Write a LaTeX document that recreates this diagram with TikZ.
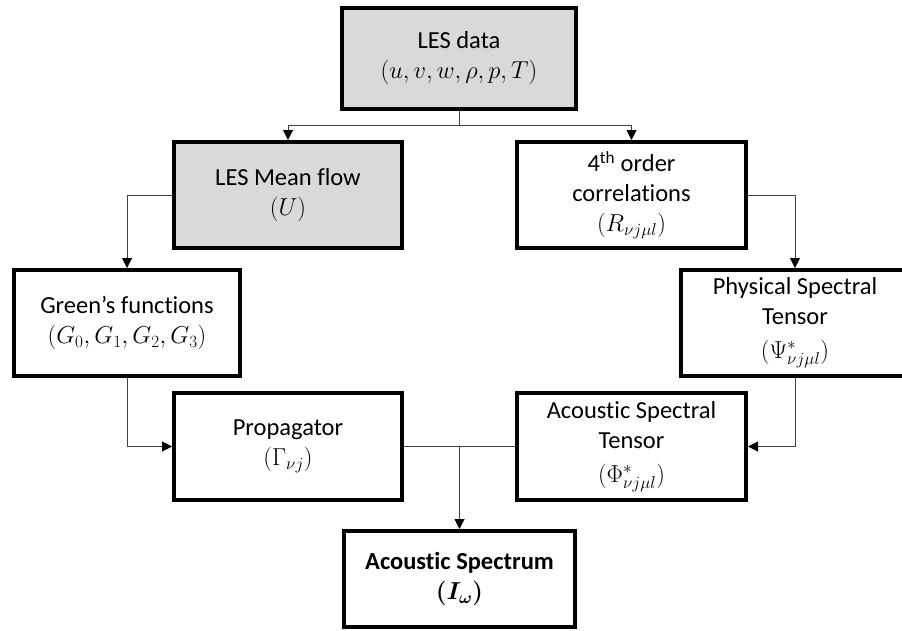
\RequirePackage{fix-cm}
\documentclass[tikz,border=0pt]{standalone}
\usepackage{fontspec}
\setmainfont{Carlito}[Ligatures={NoCommon,NoContextual,NoRare}]
\usetikzlibrary{arrows.meta}

\definecolor{boxgrey}{HTML}{D9D9D9}
\definecolor{wire}{HTML}{404040}

% "Acoustic" without the t-i ligature
\newcommand{\acoustic}{Acoust\kern0pt ic}

\tikzset{
  stagebox/.style={draw=black, line width=4pt, align=center, inner sep=0pt,
    font=\fontsize{24.5}{30}\selectfont},
  greybox/.style={stagebox, fill=boxgrey},
  wireline/.style={draw=wire, line width=1pt},
  flow/.style={wireline, -{Triangle[length=10pt, width=10pt, color=black]}},
}

\begin{document}
\begin{tikzpicture}[x=1pt, y=-1pt]
  \useasboundingbox (0,0) rectangle (902,630);

  % input data and the two branches it feeds
  \node[greybox, minimum width=234pt, minimum height=101pt] (les) at (459,58.5)
    {LES data\\$(u,v,w,\rho,p,T)$};
  \node[greybox, minimum width=228pt, minimum height=106pt] (mean) at (288,195)
    {LES Mean flow\\$(U)$};
  \node[stagebox, minimum width=229pt, minimum height=106pt] (corr) at (631.5,195)
    {4\textsuperscript{th} order\\correlations\\$(R_{\nu j\mu l})$};

  % second level
  \node[stagebox, minimum width=226pt, minimum height=106pt] (green) at (127,323)
    {Green’s functions\\$(G_0,G_1,G_2,G_3)$};
  \node[stagebox, minimum width=228pt, minimum height=106pt] (phys) at (795,323)
    {Physical Spectral\\Tensor\\[4pt]$(\Psi^{*}_{\nu j\mu l})$};

  % third level
  \node[stagebox, minimum width=228pt, minimum height=107pt] (prop) at (288,446.5)
    {Propagator\\$(\Gamma_{\nu j})$};
  \node[stagebox, minimum width=229pt, minimum height=107pt] (ast) at (631.5,446.5)
    {\acoustic{} Spectral\\Tensor\\[4pt]$(\Phi^{*}_{\nu j\mu l})$};

  % result
  \node[stagebox, minimum width=231pt, minimum height=96pt] (spec) at (459.5,579)
    {\bfseries \acoustic{} Spectrum\\{\boldmath$(I_{\omega})$}};

  % connectors
  \coordinate (split) at ([yshift=-14pt]les.south);
  \draw[wireline] (les.south) -- (split);
  \draw[flow] (split) -| (mean.north);
  \draw[flow] (split) -| (corr.north);
  \draw[flow] (mean.west) -| (green.north);
  \draw[flow] (corr.east) -| (phys.north);
  \draw[flow] (green.south) |- (prop.west);
  \draw[flow] (phys.south) |- (ast.east);
  \coordinate (join) at (spec.north |- prop.east);
  \draw[wireline] (prop.east) -- (ast.west);
  \draw[flow] (join) -- (spec.north);
\end{tikzpicture}
\end{document}
